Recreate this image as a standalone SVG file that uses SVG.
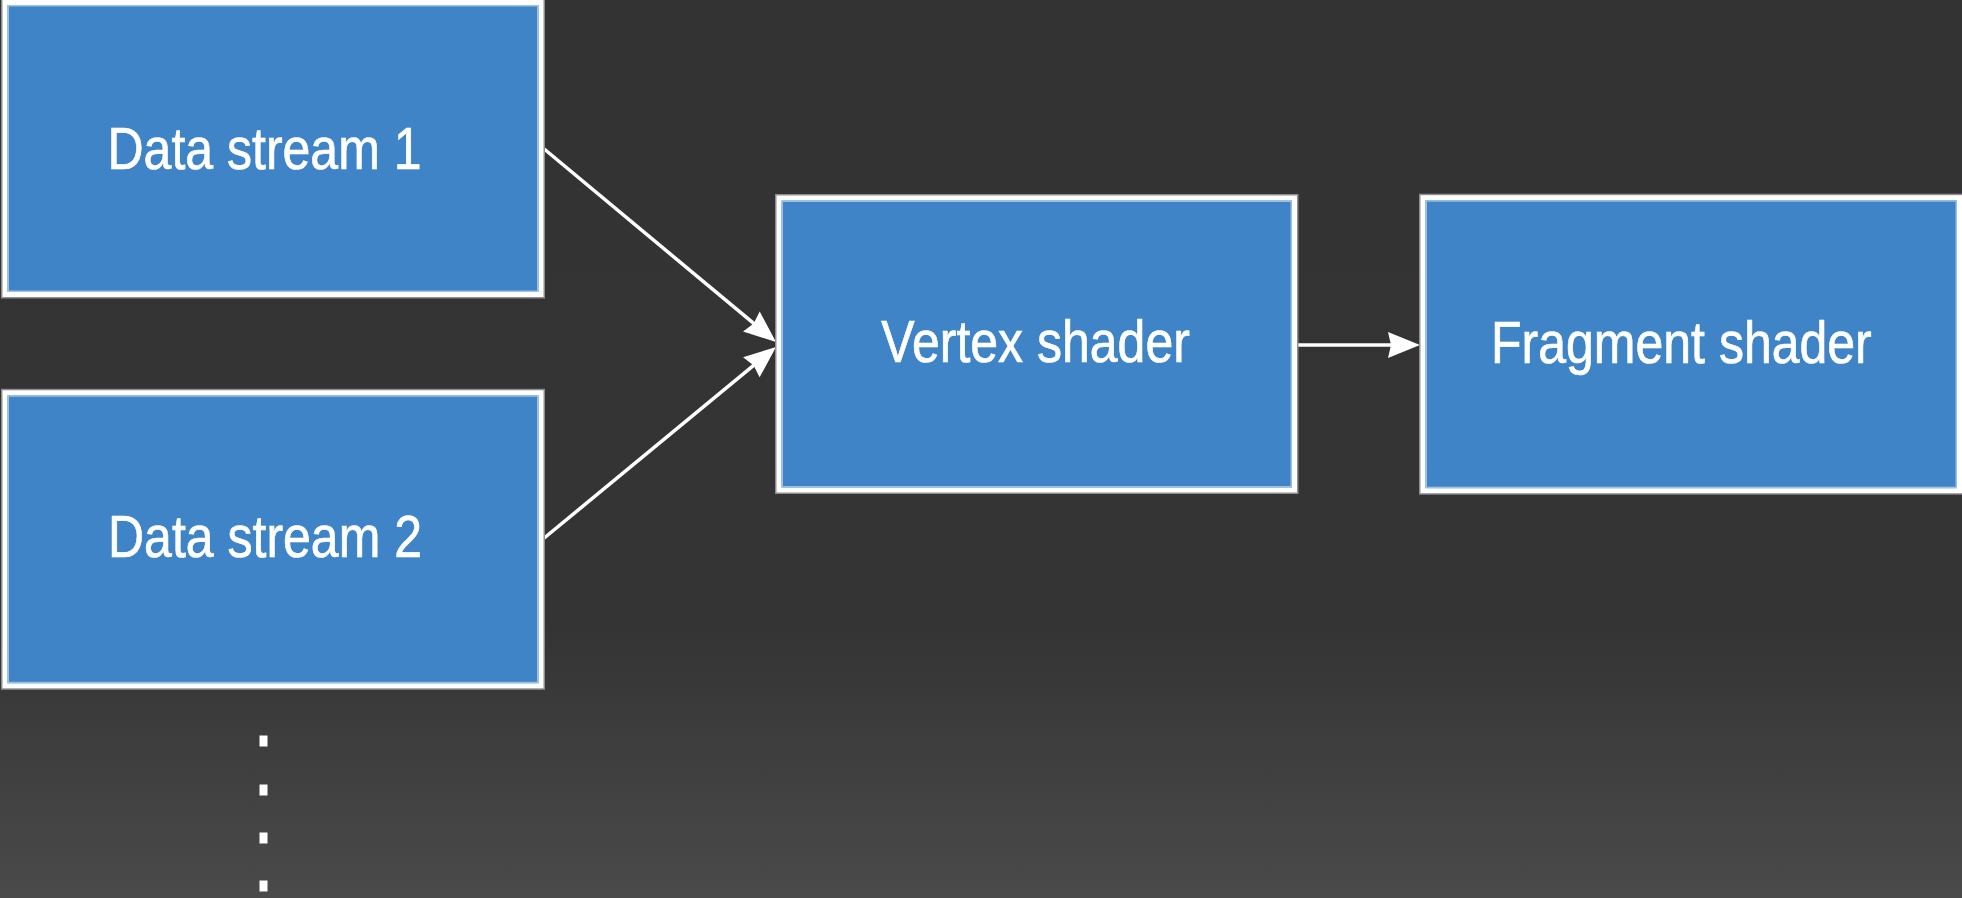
<svg xmlns="http://www.w3.org/2000/svg" width="1962" height="898" viewBox="0 0 1962 898">
  <defs>
    <linearGradient id="bg" x1="0" y1="0" x2="0" y2="1">
      <stop offset="0" stop-color="#333333"/>
      <stop offset="0.7" stop-color="#343434"/>
      <stop offset="1" stop-color="#4a4a4a"/>
    </linearGradient>
    <marker id="arrow" markerUnits="userSpaceOnUse" markerWidth="40" markerHeight="40" refX="0" refY="0" orient="auto" overflow="visible">
      <path d="M20,0 L-12,-13 L-9,0 L-12,13 Z" fill="#ffffff"/>
    </marker>
    <style>
      .halo { fill: none; stroke: #8e8e8e; stroke-width: 8; }
      .box { fill: #3f84c6; stroke: #ffffff; stroke-width: 5; }
      .inner { fill: none; stroke: #9fc2e4; stroke-width: 1.5; }
      .label { font-family: "Liberation Sans", Arial, sans-serif; font-size: 50px; fill: #ffffff; stroke: #ffffff; stroke-width: 0.6; text-anchor: middle; }
      .edge { fill: none; stroke: #ffffff; stroke-width: 3.5; marker-end: url(#arrow); }
      .dot { fill: #ffffff; }
    </style>
  </defs>
  <rect x="0" y="0" width="1962" height="898" fill="url(#bg)"/>

  <g id="connectors">
    <line class="edge" x1="543" y1="148" x2="760.6" y2="329.2"/>
    <line class="edge" x1="543" y1="539" x2="760.6" y2="359.7"/>
    <line class="edge" x1="1296" y1="345" x2="1400" y2="345"/>
  </g>

  <g id="data-stream-1">
    <rect class="halo" x="5" y="2.5" width="536" height="292"/>
    <rect class="box" x="5" y="2.5" width="536" height="292"/>
    <rect class="inner" x="8.25" y="5.75" width="529.5" height="285.5"/>
    <text class="label" transform="translate(264.5,169) scale(1,1.17)" x="0" y="0">Data stream 1</text>
  </g>

  <g id="data-stream-2">
    <rect class="halo" x="5" y="392.8" width="536" height="293"/>
    <rect class="box" x="5" y="392.8" width="536" height="293"/>
    <rect class="inner" x="8.25" y="396.05" width="529.5" height="286.5"/>
    <text class="label" transform="translate(265,557) scale(1,1.17)" x="0" y="0">Data stream 2</text>
  </g>

  <g id="vertex-shader">
    <rect class="halo" x="779" y="198" width="515.5" height="292"/>
    <rect class="box" x="779" y="198" width="515.5" height="292"/>
    <rect class="inner" x="782.25" y="201.25" width="509" height="285.5"/>
    <text class="label" transform="translate(1035.6,362) scale(1,1.17)" x="0" y="0">Vertex shader</text>
  </g>

  <g id="fragment-shader">
    <rect class="halo" x="1423" y="197.7" width="536.5" height="293"/>
    <rect class="box" x="1423" y="197.7" width="536.5" height="293"/>
    <rect class="inner" x="1426.25" y="200.95" width="530" height="286.5"/>
    <text class="label" transform="translate(1681.4,363) scale(1,1.17)" x="0" y="0">Fragment shader</text>
  </g>

  <g id="ellipsis">
    <rect class="dot" x="259.5" y="735.5" width="8" height="11"/>
    <rect class="dot" x="259.5" y="784.5" width="8" height="11"/>
    <rect class="dot" x="259.5" y="832.5" width="8" height="11"/>
    <rect class="dot" x="259.5" y="880.5" width="8" height="11"/>
  </g>
</svg>
